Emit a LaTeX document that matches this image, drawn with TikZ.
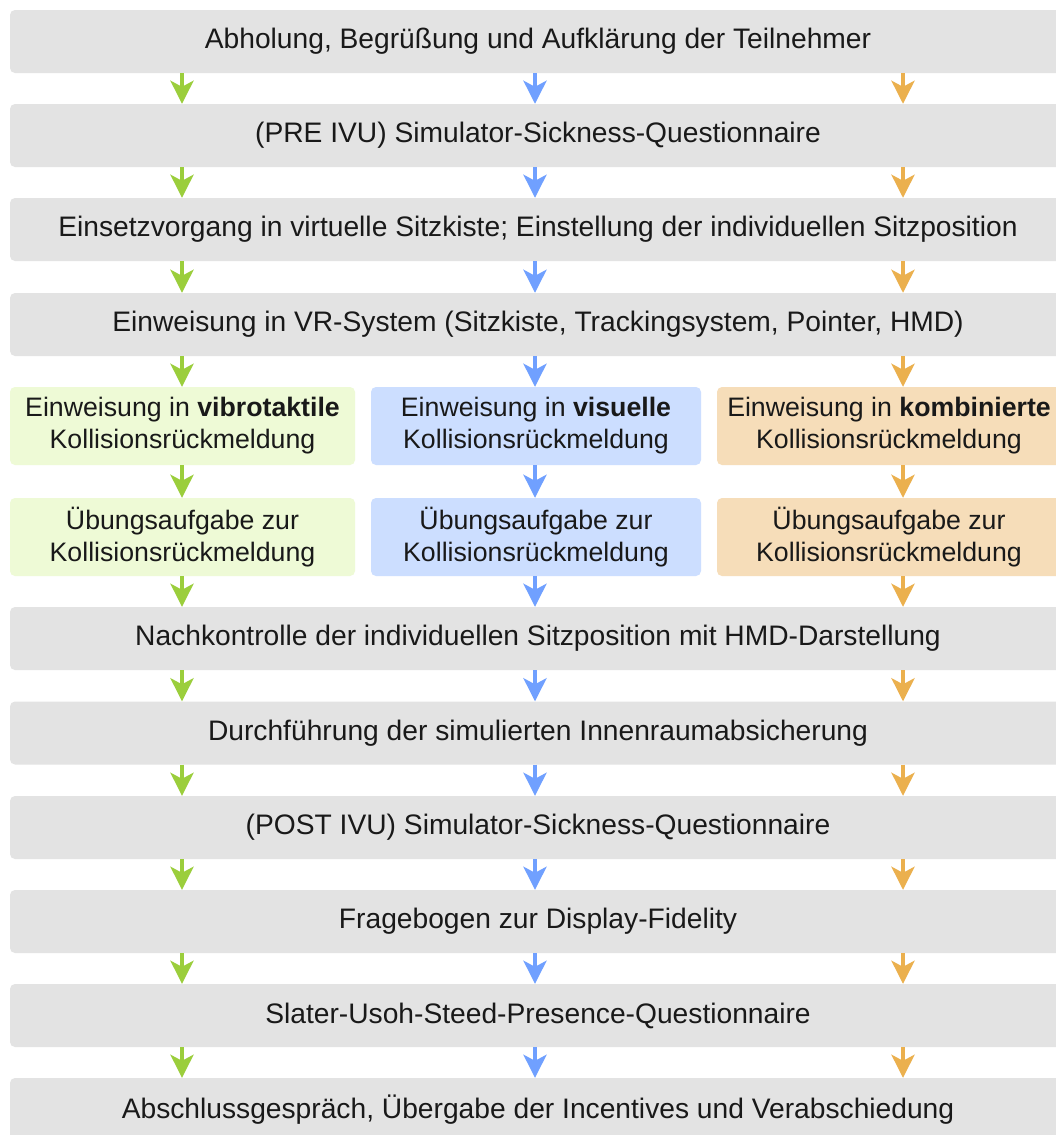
\documentclass[tikz,border=0pt]{standalone}
\usepackage{fontspec}
\setmainfont{Liberation Sans}
\usetikzlibrary{arrows.meta}
\definecolor{boxgray}{HTML}{E3E3E3}
\definecolor{gfill}{HTML}{EEFAD6}
\definecolor{bfill}{HTML}{CCDEFF}
\definecolor{ofill}{HTML}{F6DDB9}
\definecolor{garr}{HTML}{9BCE3C}
\definecolor{barr}{HTML}{70A0FF}
\definecolor{oarr}{HTML}{EBB04E}
\tikzset{
  graybox/.style={fill=boxgray, rounded corners=5pt, minimum width=1056pt, minimum height=63pt, inner sep=0pt, font=\fontsize{28.2}{33}\selectfont, text=black!90},
  colbox/.style={rounded corners=5pt, minimum height=78pt, inner sep=0pt, align=center, font=\fontsize{26.7}{32}\selectfont, text=black!90},
  flowarrow/.style={line width=4pt, -{Stealth[length=23pt,width=23pt,inset=6pt]}},
}
\begin{document}
\begin{tikzpicture}[x=1pt,y=-1pt]
\useasboundingbox (0,0) rectangle (1056,1135);
\clip (0,0) rectangle (1056,1135);
\fill[white] (0,0) rectangle (1056,1135);
% x positions of arrows
\coordinate (gx) at (182,0);
\coordinate (bx) at (535,0);
\coordinate (ox) at (903,0);
% gray rows
\node[graybox] (r1) at (538,41.5) {Abholung, Begrüßung und Aufklärung der Teilnehmer};
\node[graybox] (r2) at (538,135.5) {(PRE IVU) Simulator-Sickness-Questionnaire};
\node[graybox] (r3) at (538,229.5) {Einsetzvorgang in virtuelle Sitzkiste; Einstellung der individuellen Sitzposition};
\node[graybox] (r4) at (538,324.5) {Einweisung in VR-System (Sitzkiste, Trackingsystem, Pointer, HMD)};
% colored rows
\node[colbox, fill=gfill, minimum width=345pt] (g1) at (182.5,426) {Einweisung in \textbf{vibrotaktile}\\Kollisionsrückmeldung};
\node[colbox, fill=bfill, minimum width=330pt] (b1) at (536,426) {Einweisung in \textbf{visuelle}\\Kollisionsrückmeldung};
\node[colbox, fill=ofill, minimum width=344pt] (o1) at (889,426) {Einweisung in \textbf{kombinierte}\\Kollisionsrückmeldung};
\node[colbox, fill=gfill, minimum width=345pt] (g2) at (182.5,537) {Übungsaufgabe zur\\Kollisionsrückmeldung};
\node[colbox, fill=bfill, minimum width=330pt] (b2) at (536,537) {Übungsaufgabe zur\\Kollisionsrückmeldung};
\node[colbox, fill=ofill, minimum width=344pt] (o2) at (889,537) {Übungsaufgabe zur\\Kollisionsrückmeldung};
% gray rows after
\node[graybox] (r7) at (538,638.5) {Nachkontrolle der individuellen Sitzposition mit HMD-Darstellung};
\node[graybox] (r8) at (538,733) {Durchführung der simulierten Innenraumabsicherung};
\node[graybox] (r9) at (538,827.5) {(POST IVU) Simulator-Sickness-Questionnaire};
\node[graybox] (r10) at (538,921.5) {Fragebogen zur Display-Fidelity};
\node[graybox] (r11) at (538,1015.5) {Slater-Usoh-Steed-Presence-Questionnaire};
\node[graybox] (r12) at (538,1109.5) {Abschlussgespräch, Übergabe der Incentives und Verabschiedung};
% arrows between gray rows
\foreach \a/\b in {r1/r2,r2/r3,r3/r4,r7/r8,r8/r9,r9/r10,r10/r11,r11/r12}{
  \draw[flowarrow, garr] (\a.south -| gx) -- (\b.north -| gx);
  \draw[flowarrow, barr] (\a.south -| bx) -- (\b.north -| bx);
  \draw[flowarrow, oarr] (\a.south -| ox) -- (\b.north -| ox);
}
% arrows into and through colored columns
\draw[flowarrow, garr] (r4.south -| gx) -- (g1.north -| gx);
\draw[flowarrow, barr] (r4.south -| bx) -- (b1.north -| bx);
\draw[flowarrow, oarr] (r4.south -| ox) -- (o1.north -| ox);
\draw[flowarrow, garr] (g1.south -| gx) -- (g2.north -| gx);
\draw[flowarrow, barr] (b1.south -| bx) -- (b2.north -| bx);
\draw[flowarrow, oarr] (o1.south -| ox) -- (o2.north -| ox);
\draw[flowarrow, garr] (g2.south -| gx) -- (r7.north -| gx);
\draw[flowarrow, barr] (b2.south -| bx) -- (r7.north -| bx);
\draw[flowarrow, oarr] (o2.south -| ox) -- (r7.north -| ox);
\end{tikzpicture}
\end{document}
